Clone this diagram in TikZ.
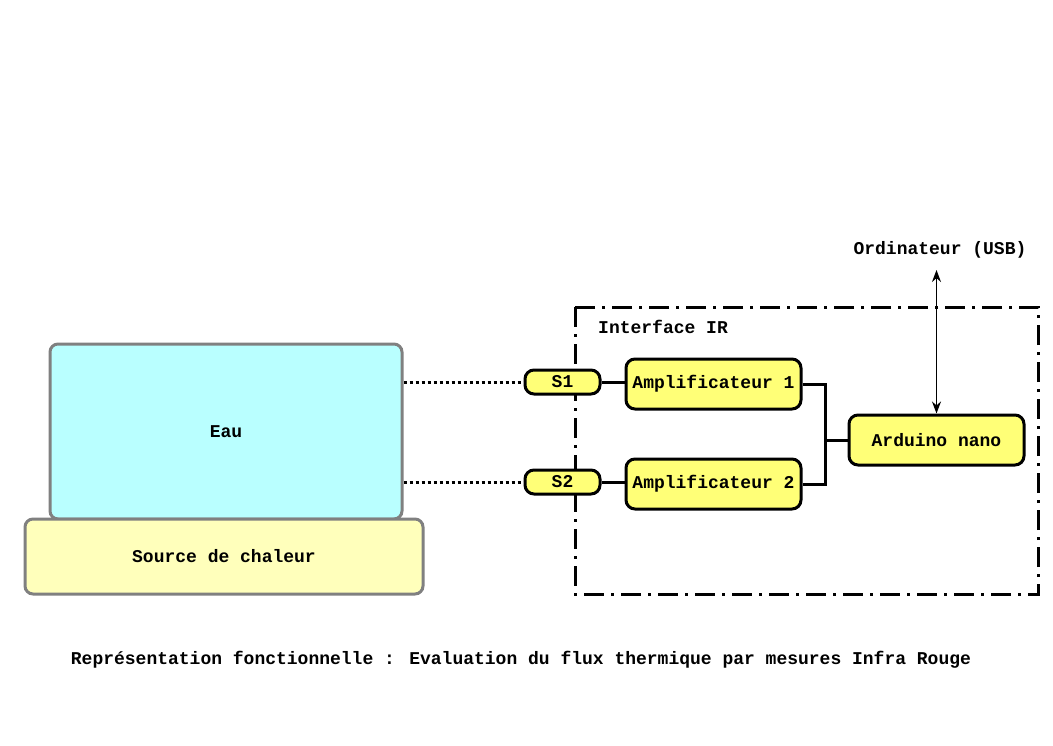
\documentclass[tikz,border=0pt]{standalone}
\usepackage{fontspec}
\newfontfamily\diagfont{Liberation Mono}
\usetikzlibrary{arrows.meta,positioning}
\definecolor{eaufill}{HTML}{B9FFFF}
\definecolor{sourcefill}{HTML}{FFFFBB}
\definecolor{blocfill}{HTML}{FFFF77}
\definecolor{bordgris}{HTML}{808080}
\tikzset{milieu/.style={rectangle,rounded corners=8pt,draw=bordgris,line width=3pt,inner sep=0pt},
         bloc/.style={rectangle,rounded corners=9pt,draw=black,fill=blocfill,line width=3pt,minimum width=175pt,minimum height=50pt,inner sep=0pt},
         capteur/.style={rectangle,rounded corners=9pt,draw=black,fill=blocfill,line width=3pt,minimum width=75pt,minimum height=24pt,inner sep=0pt},
         liaison/.style={line width=3pt},
         mesure/.style={line width=3pt,dash pattern=on 3pt off 3pt},
         cadre/.style={line width=3pt,dash pattern=on 20pt off 7pt on 3pt off 7pt},
         texte/.style={rectangle,draw=none,fill=none,inner sep=0pt}
}

\begin{document}
\begin{tikzpicture}[x=1pt,y=-1pt,>={Stealth[length=12pt,width=9pt]},
every node/.style={font=\diagfont\bfseries\fontsize{18}{21}\selectfont}]
\useasboundingbox (0,0) rectangle (1053,745);

% bain
\node [milieu,fill=eaufill,minimum width=352pt,minimum height=175pt] (eau) at (226,431.5) {Eau};
\node [milieu,fill=sourcefill,minimum width=398pt,minimum height=75pt] (source) at (224,556.5) {Source de chaleur};

% interface
\draw [cadre] (575,307) rectangle (1038,594);
\node [texte,anchor=west] (iface) at (598,327) {Interface IR};

\node [bloc] (amp1) at (713.5,384) {Amplificateur 1};
\node [bloc,below=47pt of amp1] (amp2) {Amplificateur 2};
\node [capteur,left=23pt of amp1.west,anchor=east,yshift=2pt] (s1) {S1};
\node [capteur,left=23pt of amp2.west,anchor=east,yshift=2pt] (s2) {S2};
\node [bloc] (arduino) at (936.5,440) {Arduino nano};

\node [texte] (pc) at (940,250) {Ordinateur (USB)};
\coordinate (usb) at (936.5,270);

% liaisons
\draw [mesure] (eau.east |- s1) -- (s1.west);
\draw [mesure] (eau.east |- s2) -- (s2.west);
\draw [liaison] (s1.east) -- (s1.east -| amp1.west);
\draw [liaison] (s2.east) -- (s2.east -| amp2.west);
\coordinate (bus) at (825,440);
\draw [liaison] (amp1.east) -| (bus) |- (amp2.east);
\draw [liaison] (bus) -- (arduino.west);
\draw [<->,line width=1.5pt] (usb) -- (arduino.north);

\node [texte] (titre) at (521,660) {Représentation fonctionnelle : Evaluation du flux thermique par mesures Infra Rouge};
\end{tikzpicture}
\end{document}
